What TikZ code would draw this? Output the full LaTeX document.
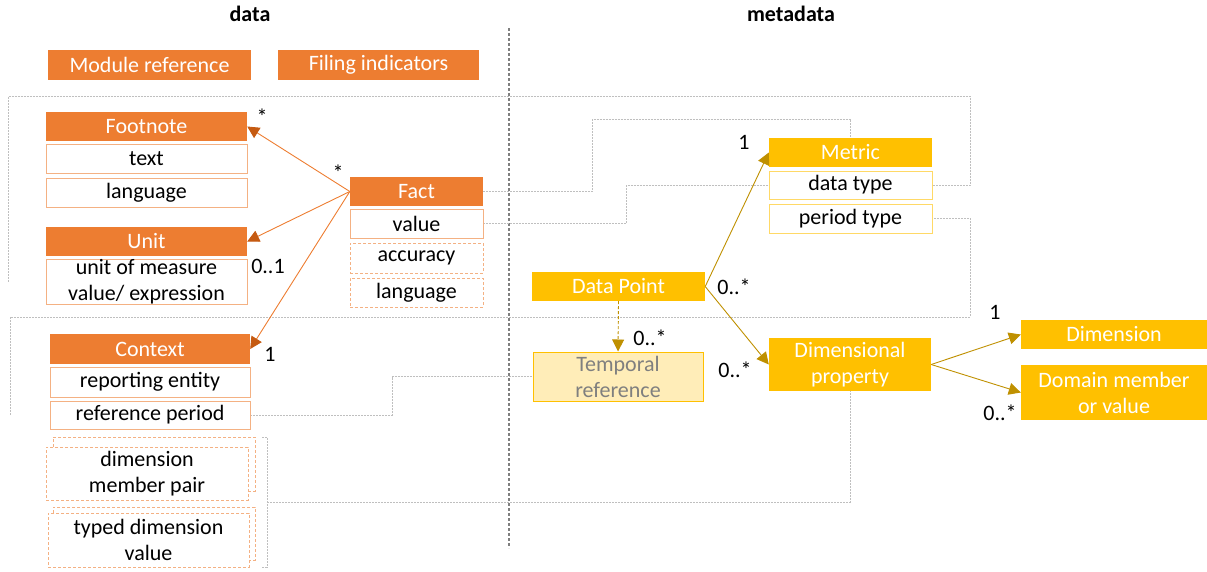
\documentclass[tikz,border=0pt]{standalone}
\usepackage{fontspec}
\setmainfont{Carlito}
\usetikzlibrary{arrows.meta}
\definecolor{orng}{HTML}{ED7D31}
\definecolor{orngdk}{HTML}{C55A11}
\definecolor{orngl}{HTML}{F4B183}
\definecolor{gold}{HTML}{FFC000}
\definecolor{golddk}{HTML}{BF9000}
\definecolor{goldl}{HTML}{FFD966}
\definecolor{tempf}{HTML}{FFEDB8}
\definecolor{grl}{HTML}{BFBFBF}
\definecolor{divc}{HTML}{7F7F7F}
\begin{document}
\begin{tikzpicture}[x=1pt,y=-1pt,font=\fontsize{22}{26}\selectfont,
  box/.style={rectangle,inner sep=0pt,align=center},
  ohdr/.style={box,fill=orng,text=white},
  oatt/.style={box,draw=orngl,line width=1pt,fill=white},
  oattd/.style={oatt,dash pattern=on 3pt off 2pt},
  ghdr/.style={box,fill=gold,text=white},
  gatt/.style={box,draw=goldl,line width=1pt,fill=white},
  lbl/.style={inner sep=0pt},
  oarr/.style={draw=orng,line width=0.9pt,-{Triangle[length=12pt,width=12pt,color=orngdk]}},
  garr/.style={draw=golddk,line width=0.9pt,-{Triangle[length=12pt,width=12pt,color=golddk]}},
  gline/.style={draw=grl,line width=1pt,dash pattern=on 2pt off 1pt},
]
\useasboundingbox (0,0) rectangle (1207,571);

% titles
\node[lbl,font=\fontsize{22}{26}\selectfont\bfseries] (tdata) at (250,14) {data};
\node[lbl,font=\fontsize{22}{26}\selectfont\bfseries] (tmeta) at (791,14) {metadata};

% divider
\draw[divc,line width=1.2pt,dash pattern=on 3pt off 2pt] (509,28) -- (509,548);

% grey dashed connectors (drawn first)
\draw[gline] (8,281.5) |- (970,96) |- (932,185);
\draw[gline] (10,415) |- (970,317) |- (932,218.5);
\draw[gline] (250,415) -- (392,415) |- (533,376.5);
\draw[gline] (483,191.5) -| (592,119) -| (850.5,138);
\draw[gline] (483,223.5) -| (626,185) -- (769,185);
\draw[gline] (262,437) -- (267,437) -- (267,567) -- (262,567);
\coordinate (br) at (267,502);
\draw[gline] (br) -| (850,391);

% data side
\node[ohdr,minimum width=203pt,minimum height=30pt] (modref) at (149.5,65) {Module reference};
\node[ohdr,minimum width=201pt,minimum height=30pt] (filing) at (378.5,65) {Filing indicators};

\node[ohdr,minimum width=201pt,minimum height=29pt] (foot) at (146.5,126.5) {Footnote};
\node[oatt,minimum width=201pt,minimum height=29pt] (ftext) at (146.5,158.5) {text};
\node[oatt,minimum width=201pt,minimum height=29pt] (flang) at (146.5,192.5) {language};

\node[ohdr,minimum width=201pt,minimum height=29pt] (unit) at (146.5,241.5) {Unit};
\node[oatt,minimum width=201pt,minimum height=45pt] (umeas) at (146.5,281.5) {unit of measure\\value/ expression};

\node[ohdr,minimum width=200pt,minimum height=30pt] (ctx) at (150,349) {Context};
\node[oatt,minimum width=200pt,minimum height=30pt] (repent) at (150,382) {reporting entity};
\node[oatt,minimum width=200pt,minimum height=28pt] (refper) at (150,415) {reference period};

\node[oattd,minimum width=202pt,minimum height=54pt] (dmpb) at (154,464) {};
\node[oattd,minimum width=202pt,minimum height=53pt] (dmp) at (147,473.5) {dimension\\member pair};
\node[oattd,minimum width=202pt,minimum height=53pt] (tdvb) at (154,533.5) {};
\node[oattd,minimum width=201pt,minimum height=54pt] (tdv) at (148.5,540) {typed dimension\\value};

\node[ohdr,minimum width=133pt,minimum height=29pt] (fact) at (416.5,191.5) {Fact};
\node[oatt,minimum width=133pt,minimum height=29pt] (fval) at (416.5,223.5) {value};
\node[oattd,minimum width=133pt,minimum height=30pt] (facc) at (416.5,258) {accuracy};
\node[oattd,minimum width=133pt,minimum height=29pt] (flng) at (416.5,292.5) {language};

% metadata side
\node[ghdr,minimum width=163pt,minimum height=29pt] (met) at (850.5,152.5) {Metric};
\node[gatt,minimum width=163pt,minimum height=28pt] (dtype) at (850.5,185) {data type};
\node[gatt,minimum width=163pt,minimum height=29pt] (ptype) at (850.5,218.5) {period type};

\node[ghdr,minimum width=173pt,minimum height=29pt] (dp) at (618.5,286.5) {Data Point};
\node[box,fill=tempf,draw=gold,line width=1pt,text=divc,minimum width=170pt,minimum height=49pt] (temp) at (618,376.5) {Temporal\\reference};
\node[ghdr,minimum width=162pt,minimum height=53pt] (dprop) at (850,364.5) {Dimensional\\property};
\node[ghdr,minimum width=186pt,minimum height=29pt] (dim) at (1114,334.5) {Dimension};
\node[ghdr,minimum width=186pt,minimum height=55pt] (dom) at (1114,392.5) {Domain member\\or value};

% arrows
\draw[oarr] (fact.west) -- (foot.east);
\draw[oarr] (fact.west) -- (unit.east);
\draw[oarr] (fact.west) -- (ctx.east);
\draw[garr] (dp.east) -- (met.west);
\draw[garr] (dp.east) -- (dprop.west);
\draw[garr,dash pattern=on 3pt off 2pt] (dp.south) -- (temp.north);
\draw[garr] (dprop.east) -- (dim.west);
\draw[garr] (dprop.east) -- (dom.west);

% multiplicities
\node[lbl] (m1) at (262,117) {*};
\node[lbl] (m2) at (338,173) {*};
\node[lbl] (m3) at (268,266) {0..1};
\node[lbl] (m4) at (270,354) {1};
\node[lbl] (m5) at (744,142) {1};
\node[lbl] (m6) at (734,287) {0..*};
\node[lbl] (m7) at (735,370) {0..*};
\node[lbl] (m8) at (650,338) {0..*};
\node[lbl] (m9) at (995,312) {1};
\node[lbl] (m10) at (1000,413) {0..*};
\end{tikzpicture}
\end{document}
